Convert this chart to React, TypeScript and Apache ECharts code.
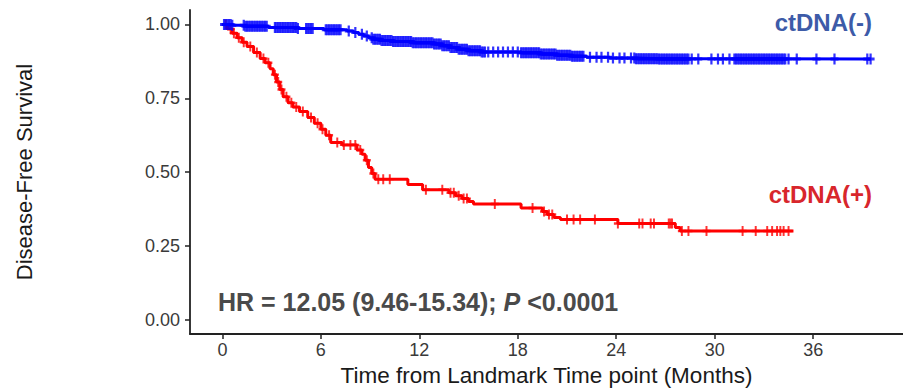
import React, { useEffect, useRef } from "react";
import * as echarts from "echarts";

// Kaplan-Meier step curves (time in months, survival probability)
const negTimes = [0, 0.6, 1.4, 2.8, 4.6, 6.2, 7.6, 8.0, 8.3, 8.6, 8.9, 9.2, 9.7, 10.4, 11.6, 12.9, 13.4, 13.9, 14.4, 15.0, 15.8, 18.2, 19.4, 20.4, 21.3, 22.2, 23.6, 25.2, 26.6, 39.5];
const negSurv = [1.0, 0.997, 0.994, 0.99, 0.986, 0.982, 0.978, 0.973, 0.967, 0.961, 0.955, 0.95, 0.946, 0.942, 0.938, 0.934, 0.928, 0.922, 0.916, 0.911, 0.907, 0.904, 0.9, 0.896, 0.892, 0.889, 0.886, 0.884, 0.883, 0.883];

const posTimes = [0, 0.3, 0.6, 0.9, 1.2, 1.5, 1.9, 2.3, 2.6, 2.9, 3.1, 3.3, 3.5, 3.7, 4.0, 4.3, 4.7, 5.2, 5.6, 6.0, 6.3, 6.6, 7.3, 8.2, 8.5, 8.7, 8.9, 9.1, 9.3, 11.3, 12.2, 13.8, 14.2, 14.6, 15.0, 15.3, 18.2, 19.5, 19.8, 20.2, 20.6, 24.1, 27.6, 27.9, 34.8];
const posSurv = [1.0, 0.985, 0.97, 0.955, 0.94, 0.925, 0.905, 0.885, 0.87, 0.85, 0.83, 0.805, 0.78, 0.755, 0.735, 0.72, 0.705, 0.685, 0.665, 0.645, 0.625, 0.6, 0.592, 0.575, 0.56, 0.54, 0.515, 0.495, 0.476, 0.458, 0.44, 0.43, 0.42, 0.41, 0.4, 0.392, 0.378, 0.366, 0.356, 0.346, 0.339, 0.326, 0.312, 0.3, 0.3];

// Censoring times
const negCensor = [
  0.1, 0.2, 0.3, 0.4, 0.5, 0.6, 1.3, 1.4, 1.5, 1.6, 1.7, 1.8, 1.9, 2.0, 2.1, 2.2, 2.3, 2.4, 2.5, 2.6, 2.7,
  3.2, 3.3, 3.4, 3.5, 3.6, 3.7, 3.8, 3.9, 4.0, 4.1, 4.2, 4.3, 4.4, 4.5, 4.6, 5.1, 5.2, 5.3, 5.4, 5.5,
  6.3, 6.4, 6.5, 6.6, 6.7, 6.8, 6.9, 7.0, 7.1, 7.2, 7.7, 8.1, 8.5, 8.8,
  9.1, 9.2, 9.3, 9.4, 9.5, 9.6, 9.7, 9.8, 9.9, 10.0, 10.1, 10.2, 10.3, 10.4, 10.5, 10.6, 10.7, 10.8, 10.9, 11.0,
  11.1, 11.2, 11.3, 11.4, 11.5, 11.6, 11.7, 11.8, 11.9, 12.0, 12.1, 12.2, 12.3, 12.4, 12.5, 12.6, 12.7, 12.8, 12.9, 13.0,
  13.1, 13.2, 13.3, 13.4, 13.5, 13.6, 13.7, 13.8, 13.9, 14.0, 14.1, 14.2, 14.3, 14.4, 14.5, 14.6, 14.7, 14.8, 14.9, 15.0,
  15.1, 15.2, 15.3, 15.4, 15.5, 15.6, 15.7, 15.8, 15.9, 16.0,
  16.2, 16.5, 16.8, 17.1, 17.4, 17.7, 18.0,
  18.2, 18.3, 18.4, 18.5, 18.6, 18.7, 18.8, 18.9, 19.0, 19.1, 19.2, 19.3, 19.4, 19.5, 19.6, 19.7, 19.8, 19.9, 20.0,
  20.1, 20.2, 20.3, 20.4, 20.5, 20.6, 20.7, 20.8, 20.9, 21.0, 21.1, 21.2, 21.3, 21.4, 21.5, 21.6, 21.7, 21.8, 21.9, 22.0,
  22.4, 22.8, 23.1, 23.5, 23.8, 24.2, 24.5, 24.9,
  25.1, 25.2, 25.3, 25.4, 25.5, 25.6, 25.7, 25.8, 25.9, 26.0, 26.1, 26.2, 26.3, 26.4, 26.5, 26.6, 26.7, 26.8, 26.9, 27.0,
  27.1, 27.2, 27.3, 27.4, 27.5, 27.6, 27.7, 27.8, 27.9, 28.0, 28.1, 28.2, 28.3, 28.4, 28.6,
  29.0, 29.8, 30.2, 30.5, 30.9,
  31.2, 31.3, 31.4, 31.5, 31.6, 31.7, 31.8, 31.9, 32.0, 32.1, 32.2, 32.3, 32.4, 32.5, 32.6, 32.7, 32.8, 32.9, 33.0,
  33.1, 33.2, 33.3, 33.4, 33.5, 33.6, 33.7, 33.8, 33.9, 34.0, 34.1, 34.2, 34.3, 34.5,
  35.0, 36.2, 37.3, 39.3, 39.5,
];
const posCensor = [0.2, 0.5, 0.7, 1.0, 1.3, 1.7, 2.1, 2.5, 2.8, 3.2, 3.4, 3.6, 3.9, 4.2, 4.5, 4.9, 5.4, 5.8, 6.1, 6.5, 7.0, 7.4, 7.8, 8.1, 8.4, 8.8, 9.2, 9.5, 9.8, 10.2, 12.4, 13.4, 13.9, 14.1, 14.4, 14.7, 14.9, 16.6, 18.9, 19.6, 19.9, 20.1, 21.0, 21.4, 21.8, 22.7, 24.1, 25.4, 25.6, 26.1, 26.3, 27.2, 27.3, 27.4, 28.0, 28.4, 29.5, 31.7, 32.5, 33.2, 33.5, 33.8, 34.0, 34.2, 34.5];

const xTicks = [0, 6, 12, 18, 24, 30, 36];
const yTicks = [0, 0.25, 0.5, 0.75, 1.0];

const NEG_COLOR = "#0000FF";
const POS_COLOR = "#FF0000";
const FONT = "'Liberation Sans', Arial, Helvetica, sans-serif";

function stepValue(times: number[], surv: number[], t: number): number {
  let v = surv[0];
  for (let i = 0; i < times.length; i++) {
    if (times[i] <= t) v = surv[i];
    else break;
  }
  return v;
}

const PLUS = "path://M5,0L5,10M0,5L10,5";

export default function App() {
  const ref = useRef<HTMLDivElement>(null);

  useEffect(() => {
    document.body.style.margin = "0";
    if (!ref.current) return;
    const chart = echarts.init(ref.current, null, { renderer: "svg" });

    const negLine = negTimes.map((t, i) => [t, negSurv[i]]);
    const posLine = posTimes.map((t, i) => [t, posSurv[i]]);
    const negMarks = negCensor.map((t) => [t, stepValue(negTimes, negSurv, t)]);
    const posMarks = posCensor.map((t) => [t, stepValue(posTimes, posSurv, t)]);

    chart.setOption({
      animation: false,
      backgroundColor: "#ffffff",
      textStyle: { fontFamily: FONT },
      grid: { left: 190, top: 10, width: 713, height: 328, containLabel: false },
      xAxis: {
        type: "value",
        min: -1.975,
        max: 41.475,
        name: "Time from Landmark Time point (Months)",
        nameLocation: "middle",
        nameGap: 29,
        nameTextStyle: { fontSize: 22.5, color: "#1a1a1a", fontFamily: FONT },
        axisLine: { show: true, onZero: false, lineStyle: { color: "#222", width: 1.8 } },
        axisTick: { show: true, length: 5, customValues: xTicks, lineStyle: { color: "#222", width: 1.5 } },
        axisLabel: { customValues: xTicks, fontSize: 18, color: "#3a3a3a", margin: 7, fontFamily: FONT },
        splitLine: { show: false },
      },
      yAxis: {
        type: "value",
        min: -0.049,
        max: 1.049,
        name: "Disease-Free Survival",
        nameLocation: "middle",
        nameGap: 155,
        nameRotate: 90,
        nameTextStyle: { fontSize: 22, color: "#1a1a1a", fontFamily: FONT },
        axisLine: { show: true, onZero: false, lineStyle: { color: "#222", width: 1.8 } },
        axisTick: { show: true, length: 5, customValues: yTicks, lineStyle: { color: "#222", width: 1.5 } },
        axisLabel: {
          customValues: yTicks,
          fontSize: 18,
          color: "#3a3a3a",
          margin: 10,
          fontFamily: FONT,
          formatter: (v: number) => v.toFixed(2),
        },
        splitLine: { show: false },
      },
      series: [
        {
          name: "ctDNA(+)",
          type: "line",
          step: "end",
          data: posLine,
          showSymbol: false,
          silent: true,
          lineStyle: { color: POS_COLOR, width: 3 },
          z: 2,
        },
        {
          name: "ctDNA(+) censored",
          type: "scatter",
          data: posMarks,
          symbol: PLUS,
          symbolSize: [8, 10],
          silent: true,
          itemStyle: { color: POS_COLOR, borderColor: POS_COLOR, borderWidth: 2.2 },
          z: 3,
        },
        {
          name: "ctDNA(-)",
          type: "line",
          step: "end",
          data: negLine,
          showSymbol: false,
          silent: true,
          lineStyle: { color: NEG_COLOR, width: 3 },
          z: 4,
        },
        {
          name: "ctDNA(-) censored",
          type: "scatter",
          data: negMarks,
          symbol: PLUS,
          symbolSize: [8, 11],
          silent: true,
          itemStyle: { color: NEG_COLOR, borderColor: NEG_COLOR, borderWidth: 2.6 },
          z: 5,
        },
      ],
      graphic: [
        {
          type: "text",
          x: 872,
          y: 22,
          style: {
            text: "ctDNA(-)",
            fill: "#3D5BA8",
            font: `bold 24px ${FONT}`,
            textAlign: "right",
            textVerticalAlign: "middle",
          },
        },
        {
          type: "text",
          x: 872,
          y: 194,
          style: {
            text: "ctDNA(+)",
            fill: "#D8262C",
            font: `bold 24px ${FONT}`,
            textAlign: "right",
            textVerticalAlign: "middle",
          },
        },
        {
          type: "text",
          x: 218,
          y: 302,
          style: {
            text: "{a|HR = 12.05 (9.46-15.34); }{b|P}{a| <0.0001}",
            textAlign: "left",
            textVerticalAlign: "middle",
            rich: {
              a: { fontSize: 25, fontWeight: "bold", fontFamily: FONT, fill: "#4a4a4a" },
              b: { fontSize: 25, fontWeight: "bold", fontStyle: "italic", fontFamily: FONT, fill: "#4a4a4a" },
            },
          },
        },
      ],
    });

    return () => chart.dispose();
  }, []);

  return <div ref={ref} style={{ width: 903, height: 392 }} />;
}
